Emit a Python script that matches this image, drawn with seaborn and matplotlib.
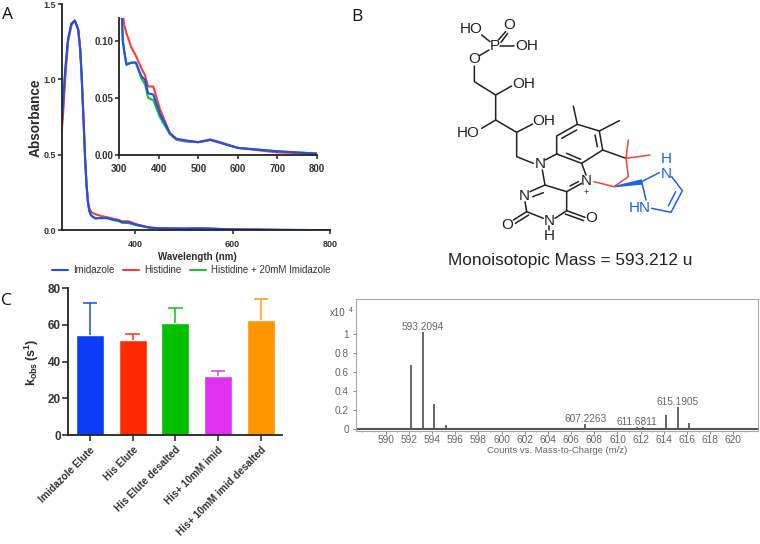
import numpy as np
import pandas as pd
import matplotlib
matplotlib.use("Agg")
import matplotlib.pyplot as plt
from matplotlib.patches import Polygon
import seaborn as sns

sns.set_style("white")
plt.rcParams['font.family'] = ['Liberation Sans', 'DejaVu Sans']
plt.rcParams['mathtext.fontset'] = 'custom'
plt.rcParams['mathtext.bf'] = 'Liberation Sans:bold'
plt.rcParams['mathtext.rm'] = 'Liberation Sans'

# ---------- data ----------
wavelength = [249,252,256,262,269,276,283,287,290,294,297,300,303,306,309,312,318,331,342,356,365,373,386,403,428,445,470,500,530,545,570,600,650,700,800]
imidazole  = [.70,.85,1.06,1.27,1.37,1.39,1.33,1.2,1.02,.72,.48,.30,.18,.125,.10,.092,.079,.081,.081,.069,.066,.054,.053,.036,.019,.014,.0125,.011,.013,.0115,.009,.006,.0045,.003,.001]
histidine  = [.65,.78,1.0,1.25,1.36,1.39,1.33,1.2,1.02,.72,.48,.30,.19,.145,.125,.115,.107,.094,.087,.076,.07,.06,.06,.04,.019,.0135,.012,.011,.0135,.012,.009,.006,.004,.002,.001]
his_imid   = [.68,.83,1.04,1.26,1.37,1.39,1.33,1.2,1.02,.72,.48,.30,.18,.125,.10,.092,.08,.081,.081,.067,.062,.05,.048,.033,.018,.013,.0115,.011,.013,.012,.0095,.006,.0045,.003,.001]
series_names = ['Imidazole', 'Histidine', 'Histidine + 20mM Imidazole']

bar_labels = ['Imidazole Elute', 'His Elute', 'His Elute desalted', 'His+ 10mM imid', 'His+ 10mM imid desalted']
bar_values = [54.5, 52, 61, 32, 62.5]
bar_errors = [17.5, 3, 8.5, 3, 11.5]
bar_colors = ['#0A3CF5', '#FF2A00', '#00C000', '#E030F0', '#FF9500']

peak_mz  = [592.2,593.21,594.2,595.2,596.2,606.2,607.23,608.2,609.2,611.68,612.2,612.7,614.2,615.19,616.2,617.2]
peak_int = [.68,1.02,.27,.05,.008,.01,.06,.015,.006,.02,.02,.01,.15,.23,.065,.012]
ms_labels = [(593.2094, 1.02, '593.2094'), (607.2263, .06, '607.2263'), (611.6811, .02, '611.6811'), (615.1905, .23, '615.1905')]

W, H = 760, 544
fig = plt.figure(figsize=(W/100, H/100), dpi=100)
def px_axes(l, t, r, b):
    return fig.add_axes([l/W, 1-b/H, (r-l)/W, (b-t)/H])

BLUE, RED, GREEN = '#1F4FF0', '#FF3B30', '#19C32F'
DARK = '#2b2b2b'
spec = pd.DataFrame({'wl': wavelength, 'im': imidazole, 'hi': histidine, 'hm': his_imid})

def draw_spectra(ax, lw):
    out = {}
    for col, c, name in [('hm', GREEN, series_names[2]), ('hi', RED, series_names[1]), ('im', BLUE, series_names[0])]:
        sns.lineplot(data=spec, x='wl', y=col, ax=ax, color=c, lw=lw, estimator=None, sort=False, legend=False)
        out[name] = ax.get_lines()[-1]
    return out

def style_axes(ax, sp=1.3, size=7, pad=3):
    for s in ['top', 'right']:
        ax.spines[s].set_visible(False)
    for s in ['left', 'bottom']:
        ax.spines[s].set_linewidth(sp)
        ax.spines[s].set_color('#222222')
    ax.tick_params(direction='out', length=3, width=1.1, color='#222222', left=True, bottom=True, pad=pad,
                   labelsize=size, labelcolor='#333333')
    ax.tick_params(axis='y', pad=1)
    for t in ax.get_xticklabels() + ax.get_yticklabels():
        t.set_fontweight('bold')

# ---------- Panel A main ----------
ax = px_axes(61.7, 4, 330, 230.3)
lines = draw_spectra(ax, 1.5)
ax.set_xlim(249, 800); ax.set_ylim(0, 1.5)
ax.set_xticks([400, 600, 800]); ax.set_yticks([0, .5, 1, 1.5])
ax.set_yticklabels(['0.0', '0.5', '1.0', '1.5'])
style_axes(ax, size=6.5, pad=4)
ax.set_xlabel('Wavelength (nm)', fontsize=7, fontweight='bold', color=DARK)
ax.xaxis.set_label_coords((197-61.7)/268.3, -(257-230.3)/226.3)
ax.xaxis.label.set_va('center')
ax.set_ylabel('Absorbance', fontsize=9.8, fontweight='bold', color=DARK)
ax.yaxis.set_label_coords((36-61.7)/268.3, (230.3-118)/226.3)
ax.yaxis.label.set_va('center')
fig.legend([lines[n] for n in series_names], series_names, loc='center', ncol=3, frameon=False,
           bbox_to_anchor=(191/W, 1-270/H), fontsize=7, labelcolor='#333333', handlelength=1.7,
           handletextpad=0.5, columnspacing=0.85)

# ---------- Panel A inset ----------
ins = px_axes(119.3, 18.3, 316.7, 154.7)
draw_spectra(ins, 1.5)
ins.set_xlim(300, 800); ins.set_ylim(0, .12)
ins.set_xticks(range(300, 801, 100)); ins.set_yticks([0, .05, .10])
ins.set_yticklabels(['0.00', '0.05', '0.10'])
style_axes(ins, size=7, pad=4)
ins.set_xlabel(''); ins.set_ylabel('')

# ---------- Panel C ----------
bx = px_axes(68, 288.3, 281.7, 435)
df = pd.DataFrame({'label': bar_labels, 'k': bar_values})
sns.barplot(data=df, x='label', y='k', hue='label', palette=bar_colors, order=bar_labels, hue_order=bar_labels,
            ax=bx, width=0.66, legend=False, saturation=1)
for i in range(len(bar_labels)):
    top = bar_values[i] + bar_errors[i]
    bx.vlines(i, bar_values[i], top, color=bar_colors[i], lw=1.3, alpha=.8)
    bx.hlines(top, i - .17, i + .17, color=bar_colors[i], lw=1.3, alpha=.8)
bx.set_xlim(-0.516, 4.49); bx.set_ylim(0, 80)
bx.set_yticks(range(0, 81, 20))
style_axes(bx)
bx.tick_params(axis='y', labelsize=8.5, length=4)
bx.tick_params(axis='x', labelsize=7.3, length=4)
bx.set_xticks(range(5))
bx.set_xticklabels(bar_labels, rotation=45, ha='right', rotation_mode='anchor', fontweight='bold')
for t in bx.get_yticklabels():
    t.set_fontweight('bold')
bx.set_xlabel('')
bx.set_ylabel(r'$\mathbf{k_{obs}\,(s^{1})}$', fontsize=9, color=DARK)
bx.yaxis.set_label_coords((41-68)/213.7, (435-362)/146.7)

# ---------- Mass spectrum ----------
mx = px_axes(356, 299.3, 758.3, 431)
mx.vlines(peak_mz, 0, peak_int, color='#666666', lw=1.4)
mx.axhline(0, color='#555555', lw=1.5)
mx.set_xlim(587.44, 622.15); mx.set_ylim(-0.018, 1.368)
mx.set_xticks(range(590, 621, 2)); mx.set_yticks([0, .2, .4, .6, .8, 1])
mx.set_yticklabels(['0', '0.2', '0.4', '0.6', '0.8', '1'])
mx.set_xticks(range(588, 622, 1), minor=True)
mx.tick_params(which='major', direction='out', length=2, width=.6, color='#777777', labelsize=7.3,
               labelcolor='#666666', left=True, bottom=True, pad=1)
mx.tick_params(which='minor', axis='x', direction='out', length=1, width=.5, color='#777777', bottom=True)
mx.tick_params(axis='y', pad=3)
for s in mx.spines.values():
    s.set_color('#aaaaaa'); s.set_linewidth(.8)
for mz, h, s in ms_labels:
    mx.annotate(s, (mz, h), xytext=(0, 0), textcoords='offset points', ha='center', va='bottom',
                fontsize=7.3, color='#666666')
mx.set_xlabel('Counts vs. Mass-to-Charge (m/z)', fontsize=6.8, color='#666666', labelpad=0.5)

# ---------- overlay: panel letters, structure ----------
ov = fig.add_axes([0, 0, 1, 1], zorder=5)
ov.set_xlim(0, W); ov.set_ylim(H, 0); ov.axis('off'); ov.patch.set_alpha(0)
for s, x, y in [('A', 7, 15), ('B', 357, 17), ('C', 6, 301)]:
    ov.text(x, y, s, fontsize=12.5, ha='center', va='center', color='#111111', family=['Open Sans', 'DejaVu Sans'])
ov.text(330, 313, 'x10', fontsize=7, color='#555555', ha='left', va='center')
ov.text(348.5, 310, '4', fontsize=5, color='#555555', ha='left', va='center')
ov.text(570, 260, 'Monoisotopic Mass = 593.212 u', fontsize=12.4, color='#222222', ha='center', va='center')

def Z(p):
    return 340 + p[0]/3, p[1]/3
def seg(pts, color='#222222', lw=1.1):
    xs, ys = zip(*[Z(p) for p in pts])
    ov.plot(xs, ys, color=color, lw=lw, solid_capstyle='round')
black_bonds = [
    [(425,105),(450,125)], [(475,120),(497,95)], [(483,127),(503,100)], [(480,138),(522,138)], [(447,150),(418,167)],
    [(403,198),(403,245),(467,285),(515,258)], [(467,285),(467,360),(425,385)], [(467,360),(530,397),(578,372)],
    [(530,397),(530,470),(580,490)], [(615,480),(650,462),(650,408),(712,373),(778,393),(788,450),(725,490),(650,462)],
    [(665,415),(710,390)], [(765,405),(772,440)], [(680,460),(722,478)], [(712,373),(700,318)], [(778,393),(838,362)],
    [(788,450),(858,475)], [(607,510),(615,555)], [(615,555),(680,575)], [(680,575),(725,550)], [(690,558),(715,545)],
    [(680,575),(680,632),(645,655)], [(680,632),(735,652)], [(676,642),(731,662)], [(610,655),(560,635),(555,605)],
    [(560,635),(520,660)], [(566,645),(526,670)], [(570,575),(615,555)], [(578,590),(610,578)], [(738,525),(725,490)],
    [(628,678),(628,690)],
]
red_bonds = [[(858,475),(865,420)], [(858,475),(930,465)], [(858,475),(865,530),(822,560),(762,545)]]
blue_bonds = [[(905,545),(958,518)], [(995,530),(1027,572),(993,637),(935,625)], [(1007,575),(985,618)], [(905,545),(918,600)]]
for b in black_bonds:
    seg(b)
for b in red_bonds:
    seg(b, '#F0453A')
for b in blue_bonds:
    seg(b, '#1F5FF0')
ov.add_patch(Polygon([Z((822,560)), Z((905,540)), Z((905,552))], color='#1F5FF0'))
atoms = [('HO',395,88),('O',507,75),('P',463,138),('OH',560,138),('O',403,178),('OH',550,252),('OH',612,362),
         ('HO',385,400),('N',600,493),('N',738,543),('N',553,587),('N',628,662),('H',628,708),('O',503,675),('O',755,655)]
for s, x, y in atoms:
    ov.text(*Z((x, y)), s, fontsize=11, ha='center', va='center', color='#222222')
ov.text(*Z((738, 578)), '+', fontsize=6.5, ha='center', va='center', color='#222222')
for s, x, y in [('N',978,522),('H',978,478),('HN',900,625)]:
    ov.text(*Z((x, y)), s, fontsize=11, ha='center', va='center', color='#1F5FF0')

fig.savefig('out.png', dpi=100)
